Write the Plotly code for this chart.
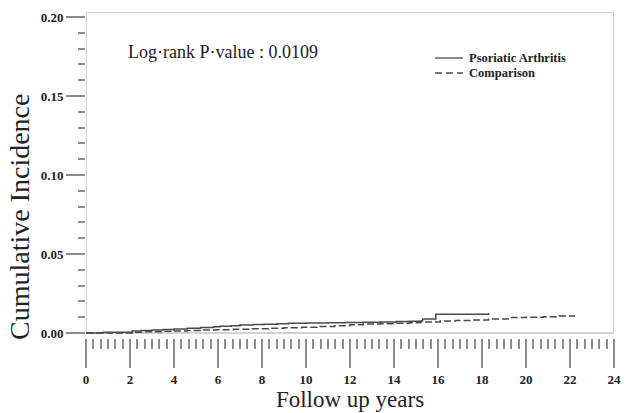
import plotly.graph_objects as go

# ---- data ----
psa_years = [0, 0.8, 2.1, 2.5, 3.0, 3.5, 4.0, 4.6, 5.2, 5.8, 6.1, 6.6, 7.0, 7.6, 8.1, 8.7,
             9.2, 10.0, 11.0, 11.8, 12.6, 13.4, 14.1, 14.7, 15.2, 15.3, 15.9, 18.3]
psa_ci = [0, 0.0005, 0.0013, 0.0016, 0.0019, 0.0022, 0.0025, 0.0030, 0.0034, 0.0039, 0.0042,
          0.0046, 0.0050, 0.0053, 0.0055, 0.0058, 0.0061, 0.0063, 0.0065, 0.0066, 0.0068,
          0.0070, 0.0072, 0.0074, 0.0076, 0.0089, 0.0118, 0.0126]

cmp_years = [0, 2.2, 2.6, 3.0, 3.5, 4.0, 4.6, 5.2, 5.9, 6.7, 7.5, 8.3, 9.0, 9.8, 10.5, 11.3,
             12.0, 12.6, 13.4, 14.1, 14.7, 15.2, 16.1, 16.8, 17.5, 18.3, 19.3, 20.0, 20.8,
             21.5, 22.2]
cmp_ci = [0, 0.0005, 0.0007, 0.0008, 0.0010, 0.0013, 0.0016, 0.0019, 0.0021, 0.0023, 0.0027,
          0.0030, 0.0033, 0.0036, 0.0041, 0.0046, 0.0052, 0.0057, 0.0059, 0.0061, 0.0065,
          0.0070, 0.0076, 0.0079, 0.0082, 0.0089, 0.0097, 0.0100, 0.0103, 0.0108, 0.0112]

series_names = ["Psoriatic Arthritis", "Comparison"]
x_ticks = list(range(0, 25, 2))
y_ticks = [0.00, 0.05, 0.10, 0.15, 0.20]
annotation_text = "Log·rank P·value : 0.0109"

SERIF = "Liberation Serif"
LINE = "#4a4a4a"
GRID = "#8c8c8c"
FRAME = "#c4c4c4"
TXT = "#222"

# plot area in screen pixels: left 86, right 614, top 12, bottom 338
PW, PH = 528.0, 326.0
def px(xp):
    return (xp - 86) / PW
def py(yp):
    return (338 - yp) / PH

fig = go.Figure()
fig.add_trace(go.Scatter(x=psa_years, y=psa_ci, mode="lines", line_shape="hv",
                         name=series_names[0], line=dict(color=LINE, width=1.5)))
fig.add_trace(go.Scatter(x=cmp_years, y=cmp_ci, mode="lines", line_shape="hv",
                         name=series_names[1], line=dict(color=LINE, width=1.5, dash="7px,3px")))

y_top = 0.2032
fig.add_shape(type="rect", xref="x", yref="y", x0=0, x1=24, y0=0, y1=y_top,
              line=dict(color=FRAME, width=1.5), layer="below")

# manual legend
legend_rows = [(58, "solid"), (73, "7px,4px")]
for (yy, dash), name in zip(legend_rows, series_names):
    fig.add_shape(type="line", xref="paper", yref="paper",
                  x0=px(435), x1=px(463), y0=py(yy), y1=py(yy),
                  line=dict(color=LINE, width=1.3, dash=dash))
    fig.add_annotation(text=name, xref="paper", yref="paper", x=px(467), y=py(yy),
                       xanchor="left", yanchor="middle", showarrow=False,
                       font=dict(family=SERIF, size=12.5, color=TXT, weight="bold"))

fig.add_annotation(text="Cumulative Incidence", xref="paper", yref="paper",
                   x=px(20), y=py(217), xanchor="center", yanchor="middle",
                   textangle=-90, showarrow=False,
                   font=dict(family=SERIF, size=28, color=TXT))
fig.add_annotation(text=annotation_text, xref="paper", yref="paper",
                   x=px(126), y=py(52), xanchor="left", yanchor="middle", showarrow=False,
                   font=dict(family=SERIF, size=18, color=TXT))

fig.update_layout(
    width=633, height=413,
    margin=dict(l=86, r=19, t=12, b=75, autoexpand=False),
    paper_bgcolor="white", plot_bgcolor="white",
    showlegend=False,
    hovermode=False,
    xaxis=dict(range=[0, 24], tickvals=x_ticks, showgrid=False, zeroline=False,
               showline=False, ticks="outside", ticklen=29, tickwidth=1.5, tickcolor=GRID,
               automargin=False,
               tickfont=dict(family=SERIF, size=13, color=TXT, weight="bold"),
               minor=dict(dtick=1/3, tick0=0, ticks="outside", ticklen=10, tickwidth=1.5,
                          tickcolor=GRID, showgrid=False),
               title=dict(text="Follow up years", standoff=4,
                          font=dict(family=SERIF, size=23, color=TXT))),
    yaxis=dict(range=[-0.0032, y_top], tickvals=y_ticks, tickformat=".2f",
               showgrid=False, zeroline=False, showline=False, automargin=False,
               ticks="outside", ticklen=19, tickwidth=1.5, tickcolor=GRID,
               tickfont=dict(family=SERIF, size=13, color=TXT, weight="bold"),
               minor=dict(dtick=0.01, tick0=0, ticks="outside", ticklen=7, tickwidth=1.5,
                          tickcolor=GRID, showgrid=False)),
)

fig.write_html("out.html", config={"displayModeBar": False},
               post_script="document.body.style.margin='0';document.body.style.overflow='hidden';")
